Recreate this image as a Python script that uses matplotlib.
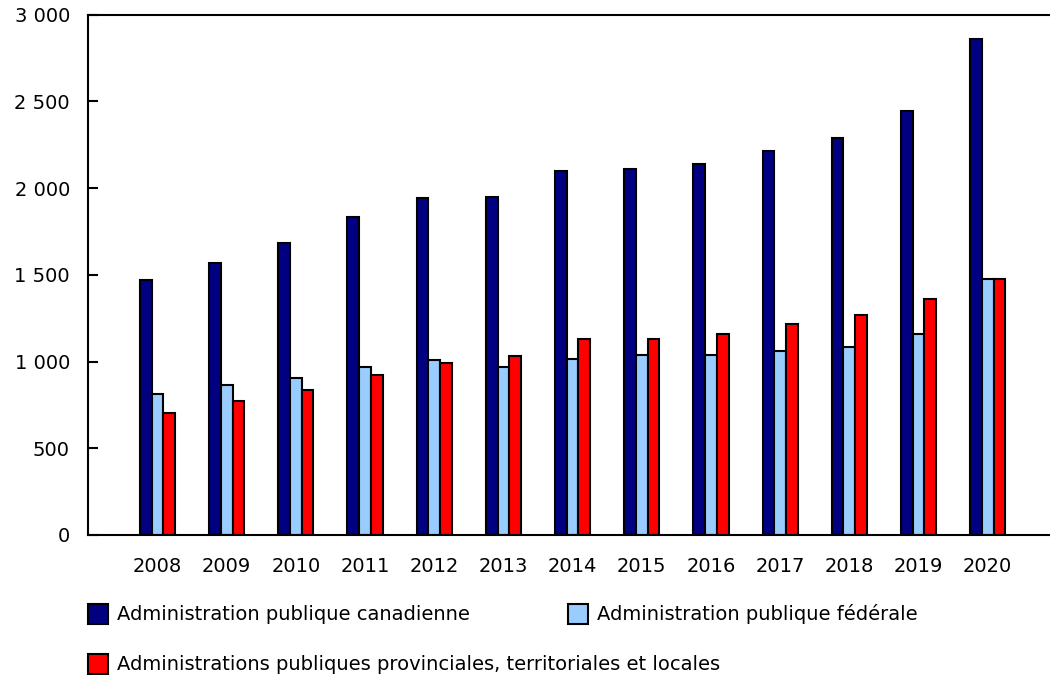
import matplotlib
matplotlib.use("Agg")
import matplotlib.pyplot as plt
import numpy as np
from matplotlib.patches import Rectangle
from matplotlib.ticker import FuncFormatter

years = ["2008", "2009", "2010", "2011", "2012", "2013", "2014",
         "2015", "2016", "2017", "2018", "2019", "2020"]
canadienne = [1470, 1567, 1685, 1835, 1944, 1946, 2096, 2108, 2140, 2215, 2288, 2442, 2858]
federale = [815, 862, 906, 967, 1006, 971, 1017, 1035, 1038, 1062, 1085, 1158, 1473]
provinciales = [706, 771, 838, 925, 992, 1029, 1129, 1129, 1156, 1219, 1267, 1360, 1473]

series_labels = ["Administration publique canadienne",
                 "Administration publique fédérale",
                 "Administrations publiques provinciales, territoriales et locales"]
colors = ["#000080", "#99CCFF", "#FF0000"]

plt.rcParams["font.family"] = ["DejaVu Sans"]
plt.rcParams["font.size"] = 14

fig = plt.figure(figsize=(10.5, 6.75), dpi=100)
ax = fig.add_axes([88 / 1050, 1 - 535 / 675, 1 - 88 / 1050, (535 - 14.5) / 675])

x = np.arange(len(years))
w = 0.17
for i, (vals, c) in enumerate(zip([canadienne, federale, provinciales], colors)):
    ax.bar(x + (i - 1) * w, vals, width=w, color=c, edgecolor="black",
           linewidth=1.5, zorder=2)

ax.set_xlim(-1.004, 12.9)
ax.set_ylim(0, 3000)
ax.set_yticks(np.arange(0, 3001, 500))
ax.yaxis.set_major_formatter(FuncFormatter(lambda v, p: f"{int(v):,}".replace(",", " ")))
ax.set_xticks(x)
ax.set_xticklabels(years)

ax.tick_params(axis="y", direction="in", length=7, width=1.5, pad=13, labelsize=14)
ax.tick_params(axis="x", length=0, pad=16, labelsize=14)

for side in ["left", "bottom", "top"]:
    ax.spines[side].set_linewidth(1.5)
    ax.spines[side].set_color("black")
ax.spines["right"].set_visible(False)

# Legend drawn as swatches and labels in figure coordinates
W, H = 1050, 675
entries = [
    (88, 604, series_labels[0], colors[0]),
    (568, 604, series_labels[1], colors[1]),
    (88, 654, series_labels[2], colors[2]),
]
for px, py, label, c in entries:
    fig.add_artist(Rectangle((px / W, 1 - (py + 20) / H), 20 / W, 20 / H,
                             transform=fig.transFigure, facecolor=c,
                             edgecolor="black", linewidth=1.5))
    fig.text((px + 29) / W, 1 - (py + 10) / H, label, ha="left", va="center",
             fontsize=14)

fig.savefig("out.png", dpi=100)
